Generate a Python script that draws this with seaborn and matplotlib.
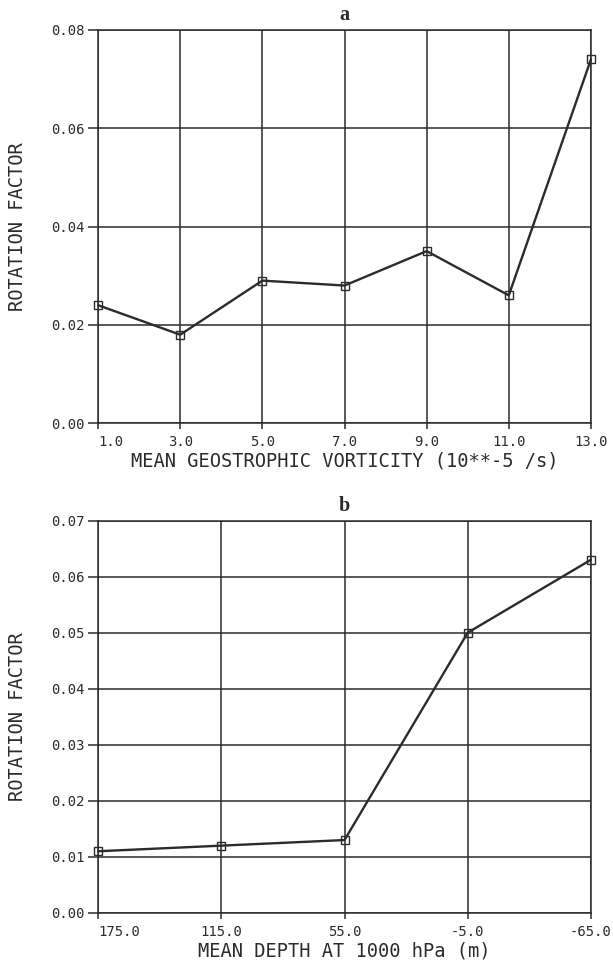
import matplotlib
matplotlib.use('Agg')
import matplotlib.pyplot as plt
import pandas as pd
import seaborn as sns

# panel a: rotation factor vs mean geostrophic vorticity
VORTICITY = [1.0, 3.0, 5.0, 7.0, 9.0, 11.0, 13.0]
ROT_A = [0.024, 0.018, 0.029, 0.028, 0.035, 0.026, 0.074]
YTICKS_A = [0.00, 0.02, 0.04, 0.06, 0.08]

# panel b: rotation factor vs mean depth at 1000 hPa
DEPTH = [175.0, 115.0, 55.0, -5.0, -65.0]
ROT_B = [0.011, 0.012, 0.013, 0.050, 0.063]
YTICKS_B = [0.00, 0.01, 0.02, 0.03, 0.04, 0.05, 0.06, 0.07]

INK = '#2b2b2b'


def style_axis(ax, xticks, yticks, xlabel, title):
    ax.set_xticks(xticks)
    ax.set_xticklabels(['%.1f' % v for v in xticks])
    ax.set_yticks(yticks)
    ax.set_yticklabels(['%.2f' % v for v in yticks])
    ax.grid(True, color=INK, linewidth=1.1)
    for sp in ax.spines.values():
        sp.set_visible(True)
        sp.set_color(INK)
        sp.set_linewidth(1.1)
    ax.tick_params(axis='y', left=True, direction='out', length=7, width=1.1, color=INK, pad=3,
                   labelsize=10, labelcolor=INK)
    ax.tick_params(axis='x', bottom=True, direction='out', length=4.5, width=1.1, color=INK, pad=4,
                   labelsize=10, labelcolor=INK)
    ax.get_xticklabels()[0].set_horizontalalignment('left')
    ax.set_xlabel(xlabel, fontsize=13.5, color=INK, labelpad=2)
    ax.set_ylabel('ROTATION FACTOR', fontsize=13.5, color=INK, labelpad=17)
    ax.set_title(title, fontsize=14.5, fontweight='bold', family='Liberation Serif', pad=7, color=INK)


def main():
    sns.set_style('white')
    plt.rcParams['font.family'] = ['DejaVu Sans Mono', 'DejaVu Sans']

    df_a = pd.DataFrame({'x': VORTICITY, 'y': ROT_A})
    df_b = pd.DataFrame({'x': DEPTH, 'y': ROT_B})

    fig = plt.figure(figsize=(6.13, 9.64), dpi=100)
    ax_a = fig.add_axes([0.160, 0.561, 0.804, 0.408])
    ax_b = fig.add_axes([0.160, 0.053, 0.804, 0.407])

    kw = dict(x='x', y='y', color=INK, linewidth=1.7, marker='s', markersize=6,
              markerfacecolor='none', markeredgecolor=INK, markeredgewidth=1.0)
    sns.lineplot(data=df_a, ax=ax_a, **kw)
    sns.lineplot(data=df_b, ax=ax_b, **kw)

    ax_a.set_xlim(1.0, 13.0)
    ax_a.set_ylim(0.0, 0.08)
    ax_b.set_xlim(175.0, -65.0)
    ax_b.set_ylim(0.0, 0.07)

    style_axis(ax_a, VORTICITY, YTICKS_A, 'MEAN GEOSTROPHIC VORTICITY (10**-5 /s)', 'a')
    style_axis(ax_b, DEPTH, YTICKS_B, 'MEAN DEPTH AT 1000 hPa (m)', 'b')

    for ax in (ax_a, ax_b):
        for line in ax.lines:
            line.set_clip_on(False)

    fig.savefig('out.png', dpi=100)


if __name__ == '__main__':
    main()
